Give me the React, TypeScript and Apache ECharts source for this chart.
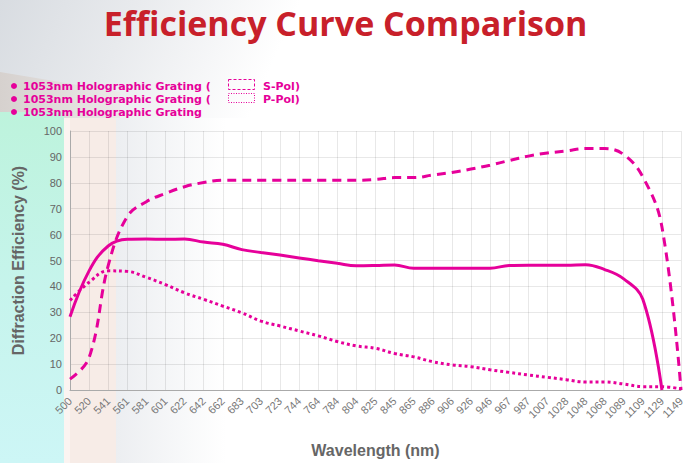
import React, { useEffect, useRef } from "react";
import * as echarts from "echarts";

const wavelengths = ["500","520","541","561","581","601","622","642","662","683","703","723","744","764","784","804","825","845","865","886","906","926","946","967","987","1007","1028","1048","1068","1089","1109","1129","1149"];
const sPol = [4.2,12.5,48,67,72.7,75.9,78.5,80.1,81,81,81,81,81,81,81,81,81.3,82,82,83,84,85.3,86.8,88.6,90.3,91.5,92.3,93.2,93.2,90.9,82.3,63,0];
const pPol = [34.6,41.6,46,45.8,43.5,40.7,37.5,35,32.4,29.8,26.6,24.7,22.8,20.9,18.7,17,16.1,14.1,12.8,10.9,9.7,9,7.8,6.8,5.8,4.9,4,3.1,3.1,2.3,1.3,1.3,0.4];
const unpol = [28.3,46,55.6,58.2,58.3,58.2,58.3,57.1,56.3,54.2,53.1,52.1,51,49.9,48.9,48,48.1,48.3,47,47,47,47,47,48.1,48.2,48.2,48.2,48.4,46.5,42.9,35,0,null];
const yTicks = { min: 0, max: 100, interval: 10 };

const PINK = "#e6009a";
const GRAY = "#666666";

export default function App() {
  const ref = useRef<HTMLDivElement>(null);
  useEffect(() => {
    const chart = echarts.init(ref.current!, null, { renderer: "svg" });
    const legendFont = "bold 11px 'DejaVu Sans', sans-serif";
    chart.setOption({
      animation: false,
      backgroundColor: "#ffffff",
      title: {
        text: "Efficiency Curve Comparison",
        left: "center",
        top: 1,
        textStyle: { color: "#c8202a", fontSize: 34, fontWeight: "bold", fontFamily: "'Open Sans', sans-serif" },
      },
      graphic: [
        {
          type: "rect", z: -10, silent: true,
          shape: { x: 0, y: 0, width: 691, height: 463 },
          style: { fill: new echarts.graphic.LinearGradient(0, 0, 1, 0.3, [
            { offset: 0, color: "#d8dce1" },
            { offset: 0.18, color: "#e8eaed" },
            { offset: 0.4, color: "#ffffff" },
            { offset: 1, color: "#ffffff" },
          ]) },
        },
        {
          type: "polygon", z: -9, silent: true,
          shape: { points: [[0, 72], [120, 92], [120, 130], [0, 130]] },
          style: { fill: new echarts.graphic.LinearGradient(0, 0, 1, 0, [
            { offset: 0, color: "#d6d1ce" },
            { offset: 1, color: "#ebe9e8" },
          ]) },
        },
        {
          type: "rect", z: -8, silent: true,
          shape: { x: 64, y: 118, width: 627, height: 345 },
          style: { fill: "#ffffff" },
        },
        {
          type: "rect", z: -8, silent: true,
          shape: { x: 0, y: 112, width: 64, height: 351 },
          style: { fill: new echarts.graphic.LinearGradient(0, 0, 0, 1, [
            { offset: 0, color: "#bdf3dc" },
            { offset: 0.5, color: "#c6f4ec" },
            { offset: 1, color: "#cdf6f6" },
          ]) },
        },
        {
          type: "rect", z: -8, silent: true,
          shape: { x: 64, y: 118, width: 6, height: 345 },
          style: { fill: "#fbf4f1" },
        },
        {
          type: "rect", z: -8, silent: true,
          shape: { x: 70, y: 118, width: 46, height: 345 },
          style: { fill: "#f7ece7" },
        },
        {
          type: "rect", z: -8, silent: true,
          shape: { x: 116, y: 118, width: 110, height: 345 },
          style: { fill: new echarts.graphic.LinearGradient(0, 0, 1, 0, [
            { offset: 0, color: "#eceef1" },
            { offset: 1, color: "#ffffff" },
          ]) },
        },
        { type: "circle", shape: { cx: 14, cy: 86, r: 3 }, style: { fill: PINK } },
        { type: "circle", shape: { cx: 14, cy: 99, r: 3 }, style: { fill: PINK } },
        { type: "circle", shape: { cx: 14, cy: 112, r: 3 }, style: { fill: PINK } },
        { type: "text", x: 23, y: 86, style: { text: "1053nm Holographic Grating (", fill: PINK, font: legendFont, verticalAlign: "middle" } },
        { type: "text", x: 23, y: 99, style: { text: "1053nm Holographic Grating (", fill: PINK, font: legendFont, verticalAlign: "middle" } },
        { type: "text", x: 23, y: 112, style: { text: "1053nm Holographic Grating", fill: PINK, font: legendFont, verticalAlign: "middle" } },
        { type: "rect", shape: { x: 228.5, y: 79.5, width: 26, height: 10 }, style: { fill: "none", stroke: PINK, lineWidth: 1, lineDash: [3, 2] } },
        { type: "rect", shape: { x: 228.5, y: 93.5, width: 26, height: 9 }, style: { fill: "none", stroke: PINK, lineWidth: 1, lineDash: [1, 1.5] } },
        { type: "text", x: 263, y: 86, style: { text: "S-Pol)", fill: PINK, font: legendFont, verticalAlign: "middle" } },
        { type: "text", x: 263, y: 99, style: { text: "P-Pol)", fill: PINK, font: legendFont, verticalAlign: "middle" } },
      ],
      grid: { left: 70, right: 10, top: 131, bottom: 70, containLabel: false },
      xAxis: {
        type: "category",
        data: wavelengths,
        boundaryGap: false,
        name: "Wavelength (nm)",
        nameLocation: "middle",
        nameGap: 52,
        nameTextStyle: { color: GRAY, fontSize: 16, fontWeight: "bold", fontFamily: "'Liberation Sans', Arial, sans-serif" },
        axisLine: { lineStyle: { color: "#aaaaaa" } },
        axisTick: { show: false },
        axisLabel: { rotate: 45, color: "#777777", fontSize: 11, margin: 9, interval: 0, fontFamily: "'Liberation Sans', Arial, sans-serif" },
        splitLine: { show: true, lineStyle: { color: "rgba(0,0,0,0.09)" } },
      },
      yAxis: {
        type: "value",
        min: yTicks.min,
        max: yTicks.max,
        interval: yTicks.interval,
        name: "Diffraction Efficiency (%)",
        nameLocation: "middle",
        nameRotate: 90,
        nameGap: 44,
        nameTextStyle: { color: GRAY, fontSize: 16, fontWeight: "bold", fontFamily: "'Liberation Sans', Arial, sans-serif" },
        axisLine: { show: true, lineStyle: { color: "#aaaaaa" } },
        axisTick: { show: false },
        axisLabel: { color: GRAY, fontSize: 11, margin: 8, fontFamily: "'Liberation Sans', Arial, sans-serif" },
        splitLine: { show: true, lineStyle: { color: "rgba(0,0,0,0.09)" } },
      },
      series: [
        {
          name: "S-Pol", type: "line", data: sPol, smooth: 0.4, showSymbol: false,
          lineStyle: { color: PINK, width: 3, type: [9, 6] },
        },
        {
          name: "P-Pol", type: "line", data: pPol, smooth: 0.4, showSymbol: false,
          lineStyle: { color: PINK, width: 3, type: [3, 3] },
        },
        {
          name: "Unpolarized", type: "line", data: unpol, smooth: 0.4, showSymbol: false, connectNulls: false,
          lineStyle: { color: PINK, width: 3 },
        },
      ],
    });
    return () => chart.dispose();
  }, []);
  return <div ref={ref} style={{ width: 691, height: 463, position: "absolute", left: 0, top: 0 }} />;
}
